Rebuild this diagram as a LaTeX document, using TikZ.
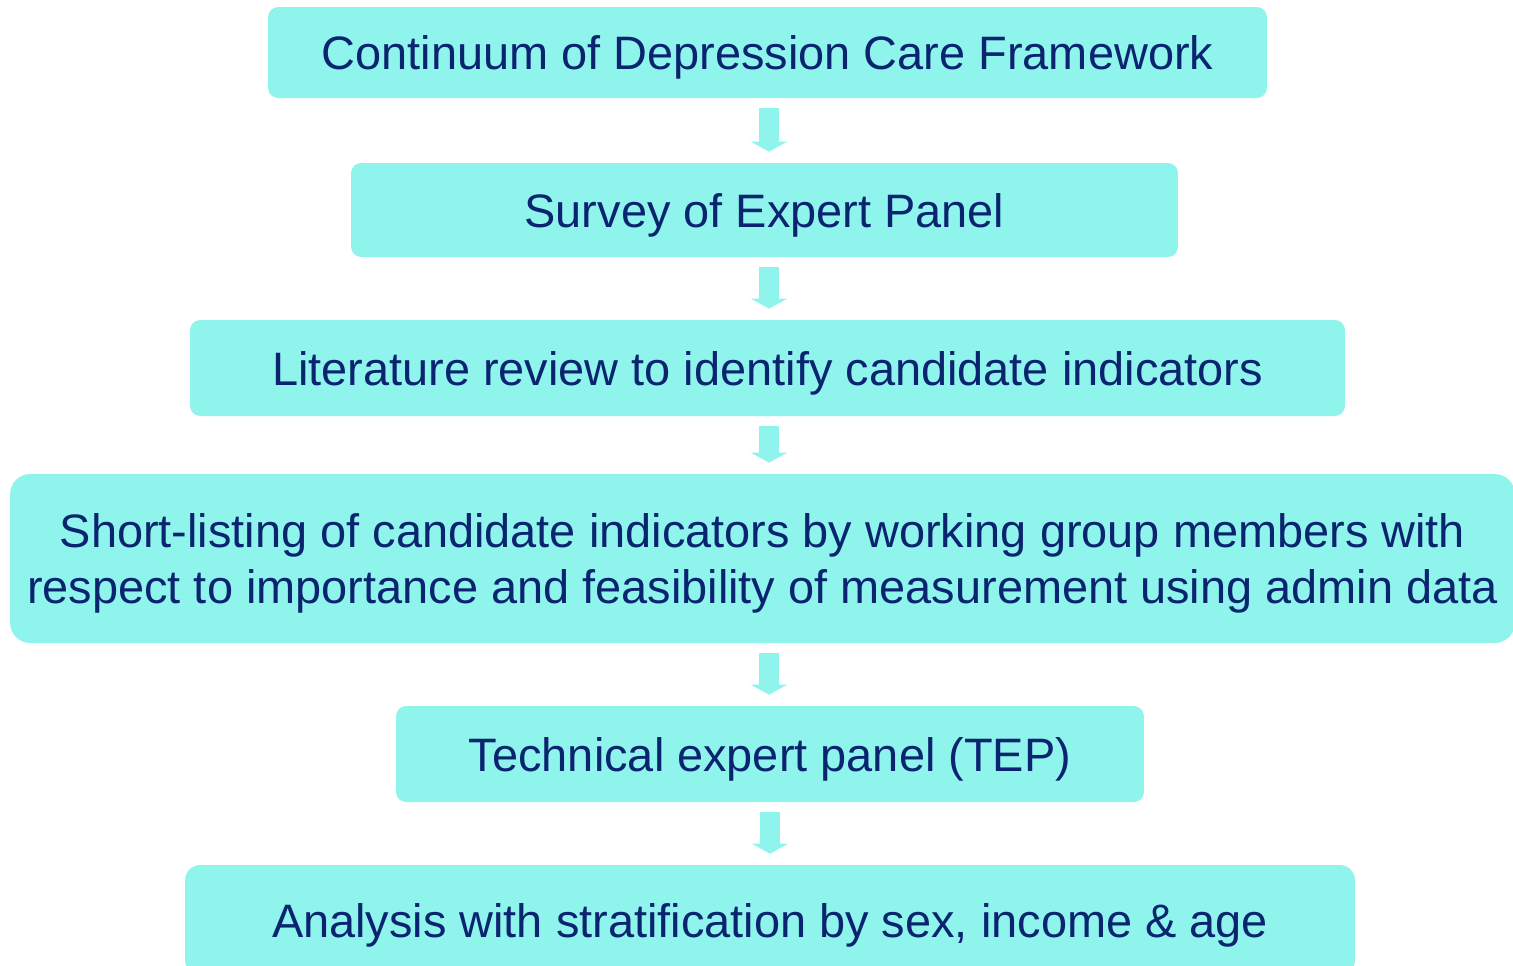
\documentclass[tikz,border=0pt]{standalone}
\usepackage{fontspec}
\setmainfont{Liberation Sans}
\usepackage{tikz}
\usetikzlibrary{positioning,calc}
\usetikzlibrary{arrows.meta}
\definecolor{boxfill}{RGB}{142,244,236}
\definecolor{boxtext}{RGB}{10,36,112}
\tikzstyle{stage} = [fill=boxfill,text=boxtext,rounded corners=0.2cm,inner sep=0pt,text depth=0pt,align=center,font=\fontsize{26.7}{32}\selectfont]
\tikzstyle{flow} = [draw=boxfill,line width=0.4cm,-{Triangle[width=0.72cm,length=0.2cm]},shorten <=0.2cm,shorten >=0.22cm]

\begin{document}
\begin{tikzpicture}[x=0.02cm,y=-0.02cm]
	\useasboundingbox (0,0) rectangle (1513,965);
	\coordinate (axis) at (769,0);
	\node[stage,minimum width=19.98cm,minimum height=1.82cm] (s1) at (767.5,52.5) {Continuum of Depression Care Framework};
	\node[stage,minimum width=16.54cm,minimum height=1.88cm] (s2) at (764.5,210) {Survey of Expert Panel};
	\node[stage,minimum width=23.1cm,minimum height=1.92cm] (s3) at (767.5,368) {Literature review to identify candidate indicators};
	\node[stage,rounded corners=0.4cm,minimum width=30.1cm,minimum height=3.38cm] (s4) at (762.5,558.5) {Short-listing of candidate indicators by working group members with\\respect to importance and feasibility of measurement using admin data};
	\node[stage,minimum width=14.96cm,minimum height=1.92cm] (s5) at (770,754) {Technical expert panel (TEP)};
	\node[stage,rounded corners=0.3cm,minimum width=23.4cm,minimum height=2.2cm] (s6) at (770,920) {Analysis with stratification by sex, income \& age};
	\draw[flow] (s1.south -| axis) -- (s2.north -| axis);
	\draw[flow] (s2.south -| axis) -- (s3.north -| axis);
	\draw[flow] (s3.south -| axis) -- (s4.north -| axis);
	\draw[flow] (s4.south -| axis) -- (s5.north -| axis);
	\draw[flow] (s5.south) -- (s6.north);
\end{tikzpicture}
\end{document}
